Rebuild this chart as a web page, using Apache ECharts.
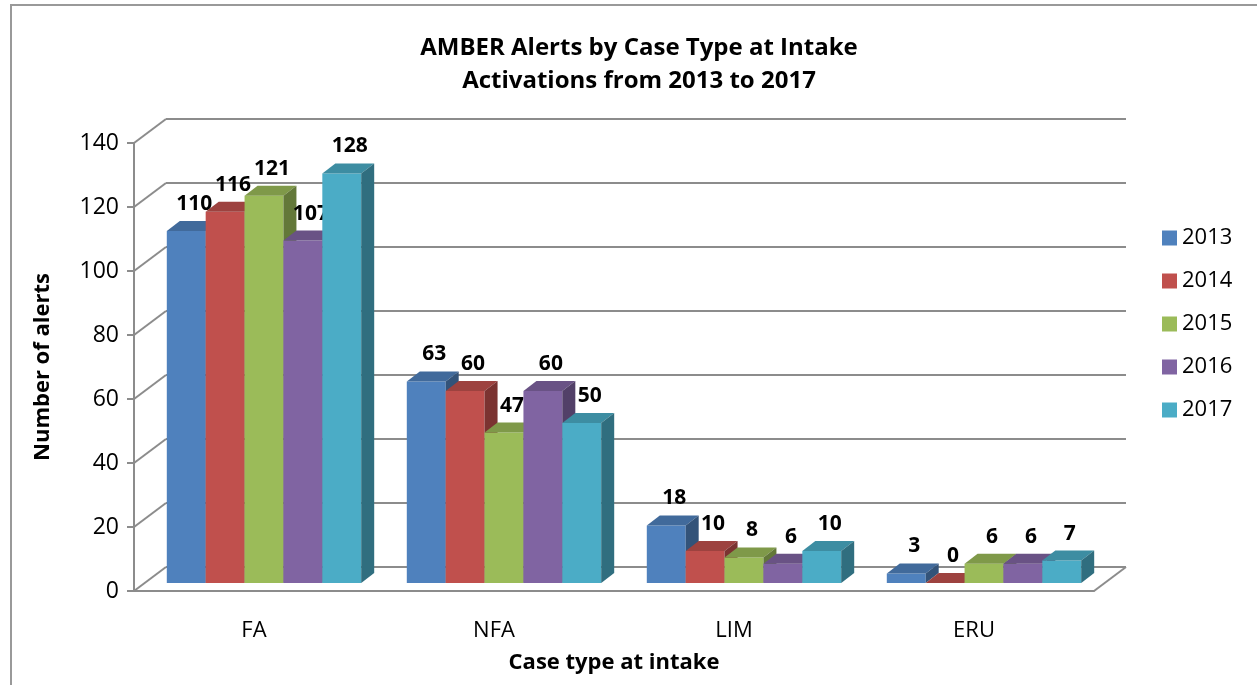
<!DOCTYPE html>
<html>
<head>
<meta charset="utf-8">
<script src="https://cdn.jsdelivr.net/npm/echarts@6/dist/echarts.min.js"></script>
<style>
  html, body { margin: 0; padding: 0; background: #fff; }
  #chart { width: 1257px; height: 685px; }
</style>
</head>
<body>
<div id="chart"></div>
<script>
!function () {
    // data
    const categories = ['FA', 'NFA', 'LIM', 'ERU'];
    const years = ['2013', '2014', '2015', '2016', '2017'];
    const v2013 = [110, 63, 18, 3];
    const v2014 = [116, 60, 10, 0];
    const v2015 = [121, 47, 8, 6];
    const v2016 = [107, 60, 6, 6];
    const v2017 = [128, 50, 10, 7];
    const yTicks = [0, 20, 40, 60, 80, 100, 120, 140];

    const values = [v2013, v2014, v2015, v2016, v2017];
    const colors = ['#4f81bd', '#c0504d', '#9bbb59', '#8064a2', '#4bacc6'];
    const FONT = '"Open Sans", sans-serif';
    const LINE = '#8c8c8c';

    // 3d look: wall depth and bar depth offsets
    const WX = 32, WY = -24;
    const FX = 10, FY = -8;
    const BX = 13, BY = -10;

    function shade(hex, k) {
        const n = parseInt(hex.slice(1), 16);
        const r = Math.round(((n >> 16) & 255) * k);
        const g = Math.round(((n >> 8) & 255) * k);
        const b = Math.round((n & 255) * k);
        return 'rgb(' + r + ',' + g + ',' + b + ')';
    }

    function barRender(si) {
        return function (params, api) {
            const cat = api.value(0), v = api.value(1);
            const base = api.coord([cat, 0]);
            const top = api.coord([cat, v]);
            const band = api.size([1, 0])[0];
            const gw = band * 0.81, bw = gw / 5;
            const x = base[0] - gw / 2 + si * bw + FX;
            const yb = base[1] + FY, yt = top[1] + FY;
            const c = colors[si];
            return {
                type: 'group',
                children: [
                    { type: 'rect', shape: { x: x, y: yt, width: bw, height: yb - yt },
                      style: { fill: c } },
                    { type: 'polygon', shape: { points: [[x, yt], [x + bw, yt], [x + bw + BX, yt + BY], [x + BX, yt + BY]] },
                      style: { fill: shade(c, 0.82) } },
                    { type: 'polygon', shape: { points: [[x + bw, yt], [x + bw + BX, yt + BY], [x + bw + BX, yb + BY], [x + bw, yb]] },
                      style: { fill: shade(c, 0.64) } },
                    { type: 'text', x: x + bw / 2 + 8, y: yt - 27,
                      style: { text: String(v), font: 'bold 21px ' + FONT, fill: '#000',
                               align: 'center', verticalAlign: 'middle' } }
                ]
            };
        };
    }

    // slanted side wall lines + right floor edge
    function wallRender(params, api) {
        const cs = params.coordSys;
        const y = api.coord([0, api.value(1)])[1];
        const children = [
            { type: 'line', shape: { x1: cs.x, y1: y, x2: cs.x + WX, y2: y + WY },
              style: { stroke: LINE, lineWidth: 2 } }
        ];
        if (api.value(1) === 0) {
            children.push({ type: 'line',
                shape: { x1: cs.x + cs.width, y1: y, x2: cs.x + cs.width + WX, y2: y + WY },
                style: { stroke: LINE, lineWidth: 2 } });
        }
        return { type: 'group', children: children };
    }

    const series = years.map(function (y, i) {
        return {
            name: y,
            type: 'custom',
            xAxisIndex: 0,
            yAxisIndex: 0,
            itemStyle: { color: colors[i] },
            renderItem: barRender(i),
            encode: { x: 0, y: 1 },
            data: values[i].map(function (v, k) { return [k, v]; }),
            z: 3
        };
    });
    series.unshift({
        name: 'wall',
        type: 'custom',
        xAxisIndex: 0,
        yAxisIndex: 0,
        renderItem: wallRender,
        encode: { x: 0, y: 1 },
        data: yTicks.map(function (t) { return [0, t]; }),
        silent: true,
        z: 1
    });

    let option = {
        backgroundColor: '#fff',
        animation: false,
        title: {
            text: 'AMBER Alerts by Case Type at Intake\nActivations from 2013 to 2017',
            left: 634,
            top: 27,
            textAlign: 'center',
            textStyle: { fontFamily: FONT, fontWeight: 'bold', fontSize: 24, lineHeight: 33, color: '#000' }
        },
        legend: {
            data: years,
            orient: 'vertical',
            left: 1157,
            top: 222,
            icon: 'rect',
            itemWidth: 15,
            itemHeight: 15,
            itemGap: 21,
            textStyle: { fontFamily: FONT, fontSize: 22, lineHeight: 22, color: '#000' }
        },
        graphic: [{
            type: 'rect',
            shape: { x: 11, y: 5, width: 1400, height: 900 },
            style: { fill: 'none', stroke: '#999', lineWidth: 2 },
            z: -1
        }],
        grid: [
            { left: 134, right: 163, top: 143, bottom: 94 },
            { left: 166, right: 131, top: 119, bottom: 118 }
        ],
        xAxis: [{
            gridIndex: 0,
            type: 'category',
            data: categories,
            name: 'Case type at intake',
            nameLocation: 'middle',
            nameGap: 61,
            nameTextStyle: { fontFamily: FONT, fontWeight: 'bold', fontSize: 22, color: '#000' },
            axisLine: { lineStyle: { color: LINE, width: 2 } },
            axisTick: { length: 9, lineStyle: { color: LINE, width: 2 } },
            axisLabel: { fontFamily: FONT, fontSize: 22, color: '#000', margin: 29 }
        }, {
            gridIndex: 1,
            type: 'category',
            data: categories,
            show: false
        }],
        yAxis: [{
            gridIndex: 0,
            type: 'value',
            min: 0,
            max: 140,
            interval: 20,
            name: 'Number of alerts',
            nameLocation: 'middle',
            nameRotate: 90,
            nameGap: 80,
            nameTextStyle: { fontFamily: FONT, fontWeight: 'bold', fontSize: 22, color: '#000' },
            axisLine: { show: true, lineStyle: { color: LINE, width: 2 } },
            axisTick: { show: true, length: 7, lineStyle: { color: LINE, width: 2 } },
            axisLabel: { fontFamily: FONT, fontSize: 23, color: '#000', margin: 15 },
            splitLine: { show: false }
        }, {
            gridIndex: 1,
            type: 'value',
            min: 0,
            max: 140,
            interval: 20,
            axisLine: { show: false },
            axisTick: { show: false },
            axisLabel: { show: false },
            splitLine: { show: true, lineStyle: { color: LINE, width: 2 } }
        }],
        series: series
    };

    let myChart = echarts.init(document.getElementById('chart'));
    myChart && myChart.setOption(option);
}()
</script>
</body>
</html>
